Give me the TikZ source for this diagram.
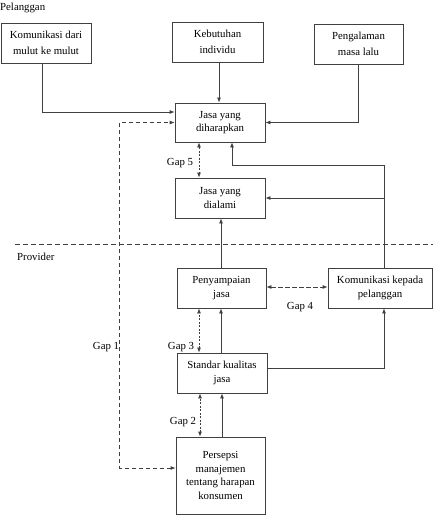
\documentclass[tikz,border=0pt]{standalone}
\usepackage{fontspec}
\setmainfont{Liberation Serif}
\usetikzlibrary{arrows.meta}
\begin{document}
\begin{tikzpicture}[x=1pt,y=-1pt,
  box/.style={draw=black!75, line width=0.8pt, align=center, inner sep=0pt, font=\fontsize{10.8}{13.5}\selectfont},
  topbox/.style={box, font=\fontsize{10.8}{15.5}\selectfont},
  ln/.style={draw=black!75, line width=0.8pt},
  arr/.style={ln, -{Latex[length=5pt,width=4pt]}},
  dasharr/.style={ln, dash pattern=on 4.5pt off 2.5pt, {Latex[length=5pt,width=4pt]}-{Latex[length=5pt,width=4pt]}},
  dotarr/.style={ln, dash pattern=on 2pt off 1.5pt, {Latex[length=5pt,width=4pt]}-{Latex[length=5pt,width=4pt]}},
  lbl/.style={inner sep=0pt, font=\fontsize{10.8}{13}\selectfont}]
\useasboundingbox (0,0) rectangle (433,524);
% boxes
\node[topbox, minimum width=90, minimum height=40] (kom) at (46,43) {Komunikasi dari\\mulut ke mulut};
\node[topbox, minimum width=91, minimum height=40] (keb) at (217.5,42) {Kebutuhan\\individu};
\node[topbox, minimum width=89, minimum height=40] (pen) at (358.5,44) {Pengalaman\\masa lalu};
\node[box, minimum width=90, minimum height=39] (har) at (220,122.5) {Jasa yang\\diharapkan};
\node[box, minimum width=90, minimum height=40] (ala) at (220,198) {Jasa yang\\dialami};
\node[box, minimum width=89, minimum height=40] (pny) at (221.5,288) {Penyampaian\\jasa};
\node[box, minimum width=104, minimum height=40] (kkp) at (380,288) {Komunikasi kepada\\pelanggan};
\node[box, minimum width=90, minimum height=40] (std) at (222,373) {Standar kualitas\\jasa};
\node[box, minimum width=89, minimum height=77] (per) at (220.5,475.5) {Persepsi\\manajemen\\tentang harapan\\konsumen};
% labels
\node[lbl, anchor=west] (pel) at (0,8) {Pelanggan};
\node[lbl, anchor=west] (prov) at (17,257) {Provider};
\node[lbl] (g1) at (106,347) {Gap 1};
\node[lbl] (g5) at (180,163) {Gap 5};
\node[lbl] (g4) at (300,307) {Gap 4};
\node[lbl] (g3) at (181,347) {Gap 3};
\node[lbl] (g2) at (183,422) {Gap 2};
% separator
\coordinate (sepL) at (15,244);
\coordinate (sepR) at (433,244);
\draw[ln, dash pattern=on 5pt off 3pt] (sepL) -- (sepR);
% connectors
\draw[arr] ([xshift=-4pt]kom.south) |- ([yshift=10.5pt]har.west);
\draw[arr] ([xshift=1.5pt]keb.south) -- ([xshift=-1pt]har.north);
\draw[arr] (pen.south) |- (har.east);
\draw[dasharr] ([yshift=7.5pt]per.west) -- ++(-56,0) |- (har.west);
\draw[dotarr] ([xshift=-21pt]har.south) -- ([xshift=-21pt]ala.north);
\coordinate (kr) at ([xshift=4pt]kkp.north);
\draw[arr] (kr) -- ++(0,-102) -| ([xshift=12pt]har.south);
\draw[arr] (kr |- ala.east) -- (ala.east);
\draw[arr] ([xshift=-0.5pt]pny.north) -- ([xshift=1pt]ala.south);
\draw[dasharr] ([yshift=1pt]pny.east) -- ([yshift=1pt]kkp.west);
\coordinate (g3a) at ([xshift=-23pt]std.north);
\draw[dotarr] (g3a) -- (g3a |- pny.south);
\coordinate (s3a) at ([xshift=-1pt]std.north);
\draw[arr] (s3a) -- (s3a |- pny.south);
\draw[arr] ([yshift=5pt]std.east) -| ([xshift=4pt]kkp.south);
\coordinate (g2a) at ([xshift=-20.5pt]per.north);
\draw[dotarr] (g2a) -- (g2a |- std.south);
\coordinate (s2a) at ([xshift=1.5pt]per.north);
\draw[arr] (s2a) -- (s2a |- std.south);
\end{tikzpicture}
\end{document}
